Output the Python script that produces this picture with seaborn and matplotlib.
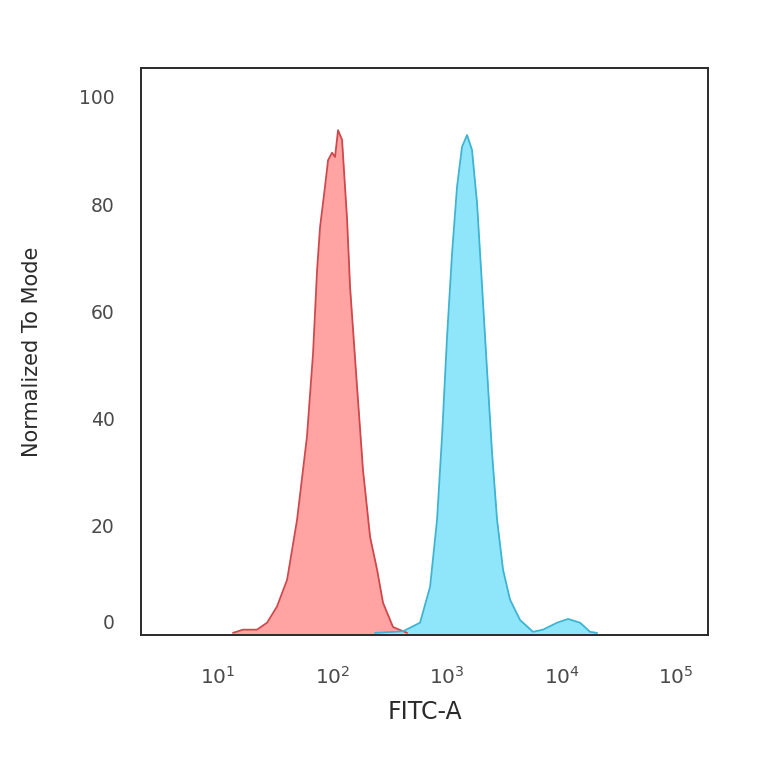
import matplotlib
matplotlib.use("Agg")
import matplotlib.pyplot as plt
import seaborn as sns
import pandas as pd
import numpy as np

# ─── Data ────────────────────────────────────────────────────────────────────
# isotype / control (red)
red_fitc = [13.5, 16.5, 21.9, 26.8, 32.7, 40.1, 49.0, 59.8, 67.6, 73.3, 77.8,
            85.9, 91.4, 99.1, 105.2, 111.7, 121.1, 134.0, 142.2, 163.7, 184.5,
            212.8, 244.9, 276.1, 337.3, 447.7]
red_mode = [0.0, 0.6, 0.6, 1.9, 4.9, 9.9, 21.1, 36.6, 52.2, 67.7, 75.7,
            83.2, 88.2, 89.6, 88.8, 93.8, 92.0, 77.1, 64.6, 45.9, 30.4,
            17.9, 11.8, 5.6, 1.1, 0.0]

# stained sample (blue)
blue_fitc = [235, 413, 581, 711, 818, 904, 1000, 1107, 1222, 1352, 1496, 1652,
             1828, 2023, 2234, 2472, 2735, 3083, 3548, 4345, 5636, 6887, 9141,
             11400, 14520, 17740, 20420]
blue_mode = [0.0, 0.3, 1.9, 8.6, 21.1, 36.6, 55.2, 70.9, 83.2, 90.7, 92.9, 90.1,
             80.2, 64.6, 49.1, 33.6, 21.1, 11.8, 6.2, 2.4, 0.2, 0.6, 1.9,
             2.6, 1.9, 0.2, 0.0]

y_ticks = [0, 20, 40, 60, 80, 100]
x_ticks = [1e1, 1e2, 1e3, 1e4, 1e5]

RED_FILL  = "#FFA3A3"
RED_LINE  = "#D0484B"
BLUE_FILL = "#8FE6FB"
BLUE_LINE = "#3DB4D2"
TXT       = "#4A4A4A"

sns.set_style("white")
plt.rcParams["font.family"] = ["DejaVu Sans"]

df_red = pd.DataFrame({"FITC-A": red_fitc, "mode": red_mode})
df_blue = pd.DataFrame({"FITC-A": blue_fitc, "mode": blue_mode})

fig = plt.figure(figsize=(7.64, 7.64), dpi=100, facecolor="white")
ax = fig.add_axes([0.1846, 0.1688, 0.7421, 0.7422])
ax.set_xscale("log")

ax.fill_between(df_red["FITC-A"], df_red["mode"], -5, color=RED_FILL, lw=0)
sns.lineplot(data=df_red, x="FITC-A", y="mode", color=RED_LINE, lw=1.3, ax=ax)
ax.fill_between(df_blue["FITC-A"], df_blue["mode"], -5, color=BLUE_FILL, lw=0)
sns.lineplot(data=df_blue, x="FITC-A", y="mode", color=BLUE_LINE, lw=1.3, ax=ax)

ax.set_xlim(2.126, 190100)
ax.set_ylim(-0.4, 105.4)
ax.set_yticks(y_ticks)
ax.set_xticks(x_ticks)
ax.minorticks_off()
ax.tick_params(axis="x", length=0, pad=22, labelsize=14.5, colors=TXT)
ax.tick_params(axis="y", length=0, pad=19, labelsize=13.5, colors=TXT)
for lab in ax.get_yticklabels():
    if lab.get_text() == "0":
        lab.set_va("bottom")

for s in ax.spines.values():
    s.set_visible(True)
    s.set_color("#2A2A2A")
    s.set_linewidth(1.4)

ax.set_xlabel("FITC-A", fontsize=17, color="#2A2A2A", labelpad=9)
ax.set_ylabel("Normalized To Mode", fontsize=15, color="#2A2A2A", labelpad=27)

fig.savefig("out.png", dpi=100, facecolor="white")
